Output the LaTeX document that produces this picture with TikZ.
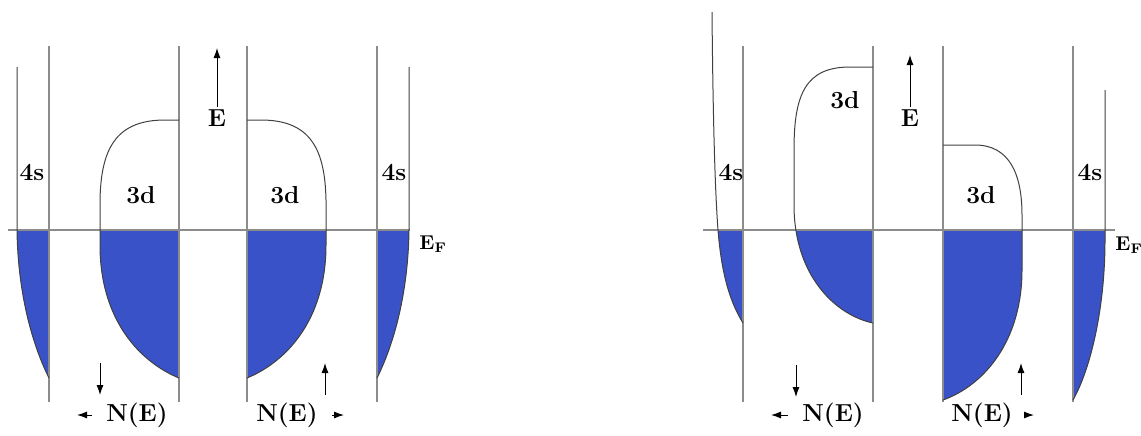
\documentclass[tikz,border=0pt]{standalone}
\usetikzlibrary{arrows.meta}
\usepackage{xcolor}
\definecolor{bandblue}{RGB}{58,82,200}

% band edges, in pixel units of the figure
\newcommand{\bandAs}{(17,67) -- (17,230) .. controls (18,300) and (35,350) .. (49,378)}
\newcommand{\bandAd}{(179,120) -- (165,120) .. controls (115,120) and (101,150) .. (100,200) -- (100,245) .. controls (100,320) and (140,362) .. (179,378)}
\newcommand{\bandAdr}{(247,120) -- (261,120) .. controls (311,120) and (325,150) .. (326,200) -- (326,245) .. controls (326,320) and (286,362) .. (247,378)}
\newcommand{\bandAsr}{(409,67) -- (409,230) .. controls (408,300) and (391,350) .. (377,378)}
\newcommand{\bandBs}{(712,12) .. controls (713,120) and (715,190) .. (718,230) .. controls (722,280) and (732,305) .. (743,323)}
\newcommand{\bandBd}{(873,67) -- (850,67) .. controls (805,67) and (794,95) .. (794,150) -- (794,205) .. controls (794,275) and (835,315) .. (873,323)}
\newcommand{\bandBdr}{(943,145) -- (975,145) .. controls (1010,145) and (1022,175) .. (1022,215) -- (1022,270) .. controls (1022,340) and (985,385) .. (943,400)}
\newcommand{\bandBsr}{(1105,90) -- (1105,240) .. controls (1105,310) and (1090,370) .. (1073,400)}

\begin{document}
\begin{tikzpicture}[x=0.5pt, y=-0.5pt,
    band/.style={draw=black!75, line width=0.5pt},
    axis/.style={draw=black!45, line width=0.8pt},
    lbl/.style={font=\fontsize{12.3}{14}\selectfont\bfseries, inner sep=1pt},
    fermi/.style={font=\fontsize{10}{12}\selectfont\bfseries, inner sep=0.5pt, anchor=west},
    arr/.style={-{Latex[length=5pt,width=3.5pt]}, line width=0.5pt}]
  \useasboundingbox (0,0) rectangle (1141,435);
  \begin{scope}
    \clip (0,230) rectangle (1141,435);
    \fill[bandblue] \bandAs -- (49,67) -- cycle;
    \fill[bandblue] \bandAd -- cycle;
    \fill[bandblue] \bandAdr -- cycle;
    \fill[bandblue] \bandAsr -- (377,67) -- cycle;
    \fill[bandblue] \bandBs -- (743,12) -- cycle;
    \fill[bandblue] \bandBd -- cycle;
    \fill[bandblue] \bandBdr -- cycle;
    \fill[bandblue] \bandBsr -- (1073,90) -- cycle;
  \end{scope}
  \foreach \x in {49,179,247,377,743,873,943,1073}
    \draw[axis] (\x,46) -- (\x,402);
  \draw[axis] (8,230) -- (410,230);
  \draw[axis] (703,230) -- (1115,230);
  \draw[band] \bandAs;
  \draw[band] \bandAd;
  \draw[band] \bandAdr;
  \draw[band] \bandAsr;
  \draw[band] \bandBs;
  \draw[band] \bandBd;
  \draw[band] \bandBdr;
  \draw[band] \bandBsr;

  % left: paramagnetic
  \node[lbl] (sA) at (32,172) {4s};
  \node[lbl] (dA) at (141,195) {3d};
  \node[lbl] (dAr) at (285,195) {3d};
  \node[lbl] (sAr) at (394,172) {4s};
  \node[fermi] (efA) at (418,244) {E$_{\mathbf{F}}$};
  \node[lbl] (eA) at (217,118) {E};
  \coordinate (eAt) at (217,48);
  \draw[arr] (eA) -- (eAt);
  \node[lbl] (nA) at (137,415) {N(E)};
  \coordinate (nAt) at (77,415);
  \draw[arr, shorten <=6pt] (nA) -- (nAt);
  \node[lbl] (nAr) at (287,415) {N(E)};
  \coordinate (nArt) at (344,415);
  \draw[arr, shorten <=6pt] (nAr) -- (nArt);
  \coordinate (dnA1) at (100,363);
  \coordinate (dnA2) at (100,395);
  \draw[arr] (dnA1) -- (dnA2);
  \coordinate (upA1) at (325,395);
  \coordinate (upA2) at (325,363);
  \draw[arr] (upA1) -- (upA2);

  % right: ferromagnetic
  \node[lbl] (sB) at (731,172) {4s};
  \node[lbl] (dB) at (845,100) {3d};
  \node[lbl] (dBr) at (981,195) {3d};
  \node[lbl] (sBr) at (1090,172) {4s};
  \node[fermi] (efB) at (1114,245) {E$_{\mathbf{F}}$};
  \node[lbl] (eB) at (910,118) {E};
  \coordinate (eBt) at (910,55);
  \draw[arr] (eB) -- (eBt);
  \node[lbl] (nB) at (833,415) {N(E)};
  \coordinate (nBt) at (771,415);
  \draw[arr, shorten <=6pt] (nB) -- (nBt);
  \node[lbl] (nBr) at (982,415) {N(E)};
  \coordinate (nBrt) at (1034,415);
  \draw[arr, shorten <=6pt] (nBr) -- (nBrt);
  \coordinate (dnB1) at (796,365);
  \coordinate (dnB2) at (796,397);
  \draw[arr] (dnB1) -- (dnB2);
  \coordinate (upB1) at (1021,395);
  \coordinate (upB2) at (1021,363);
  \draw[arr] (upB1) -- (upB2);
\end{tikzpicture}
\end{document}
